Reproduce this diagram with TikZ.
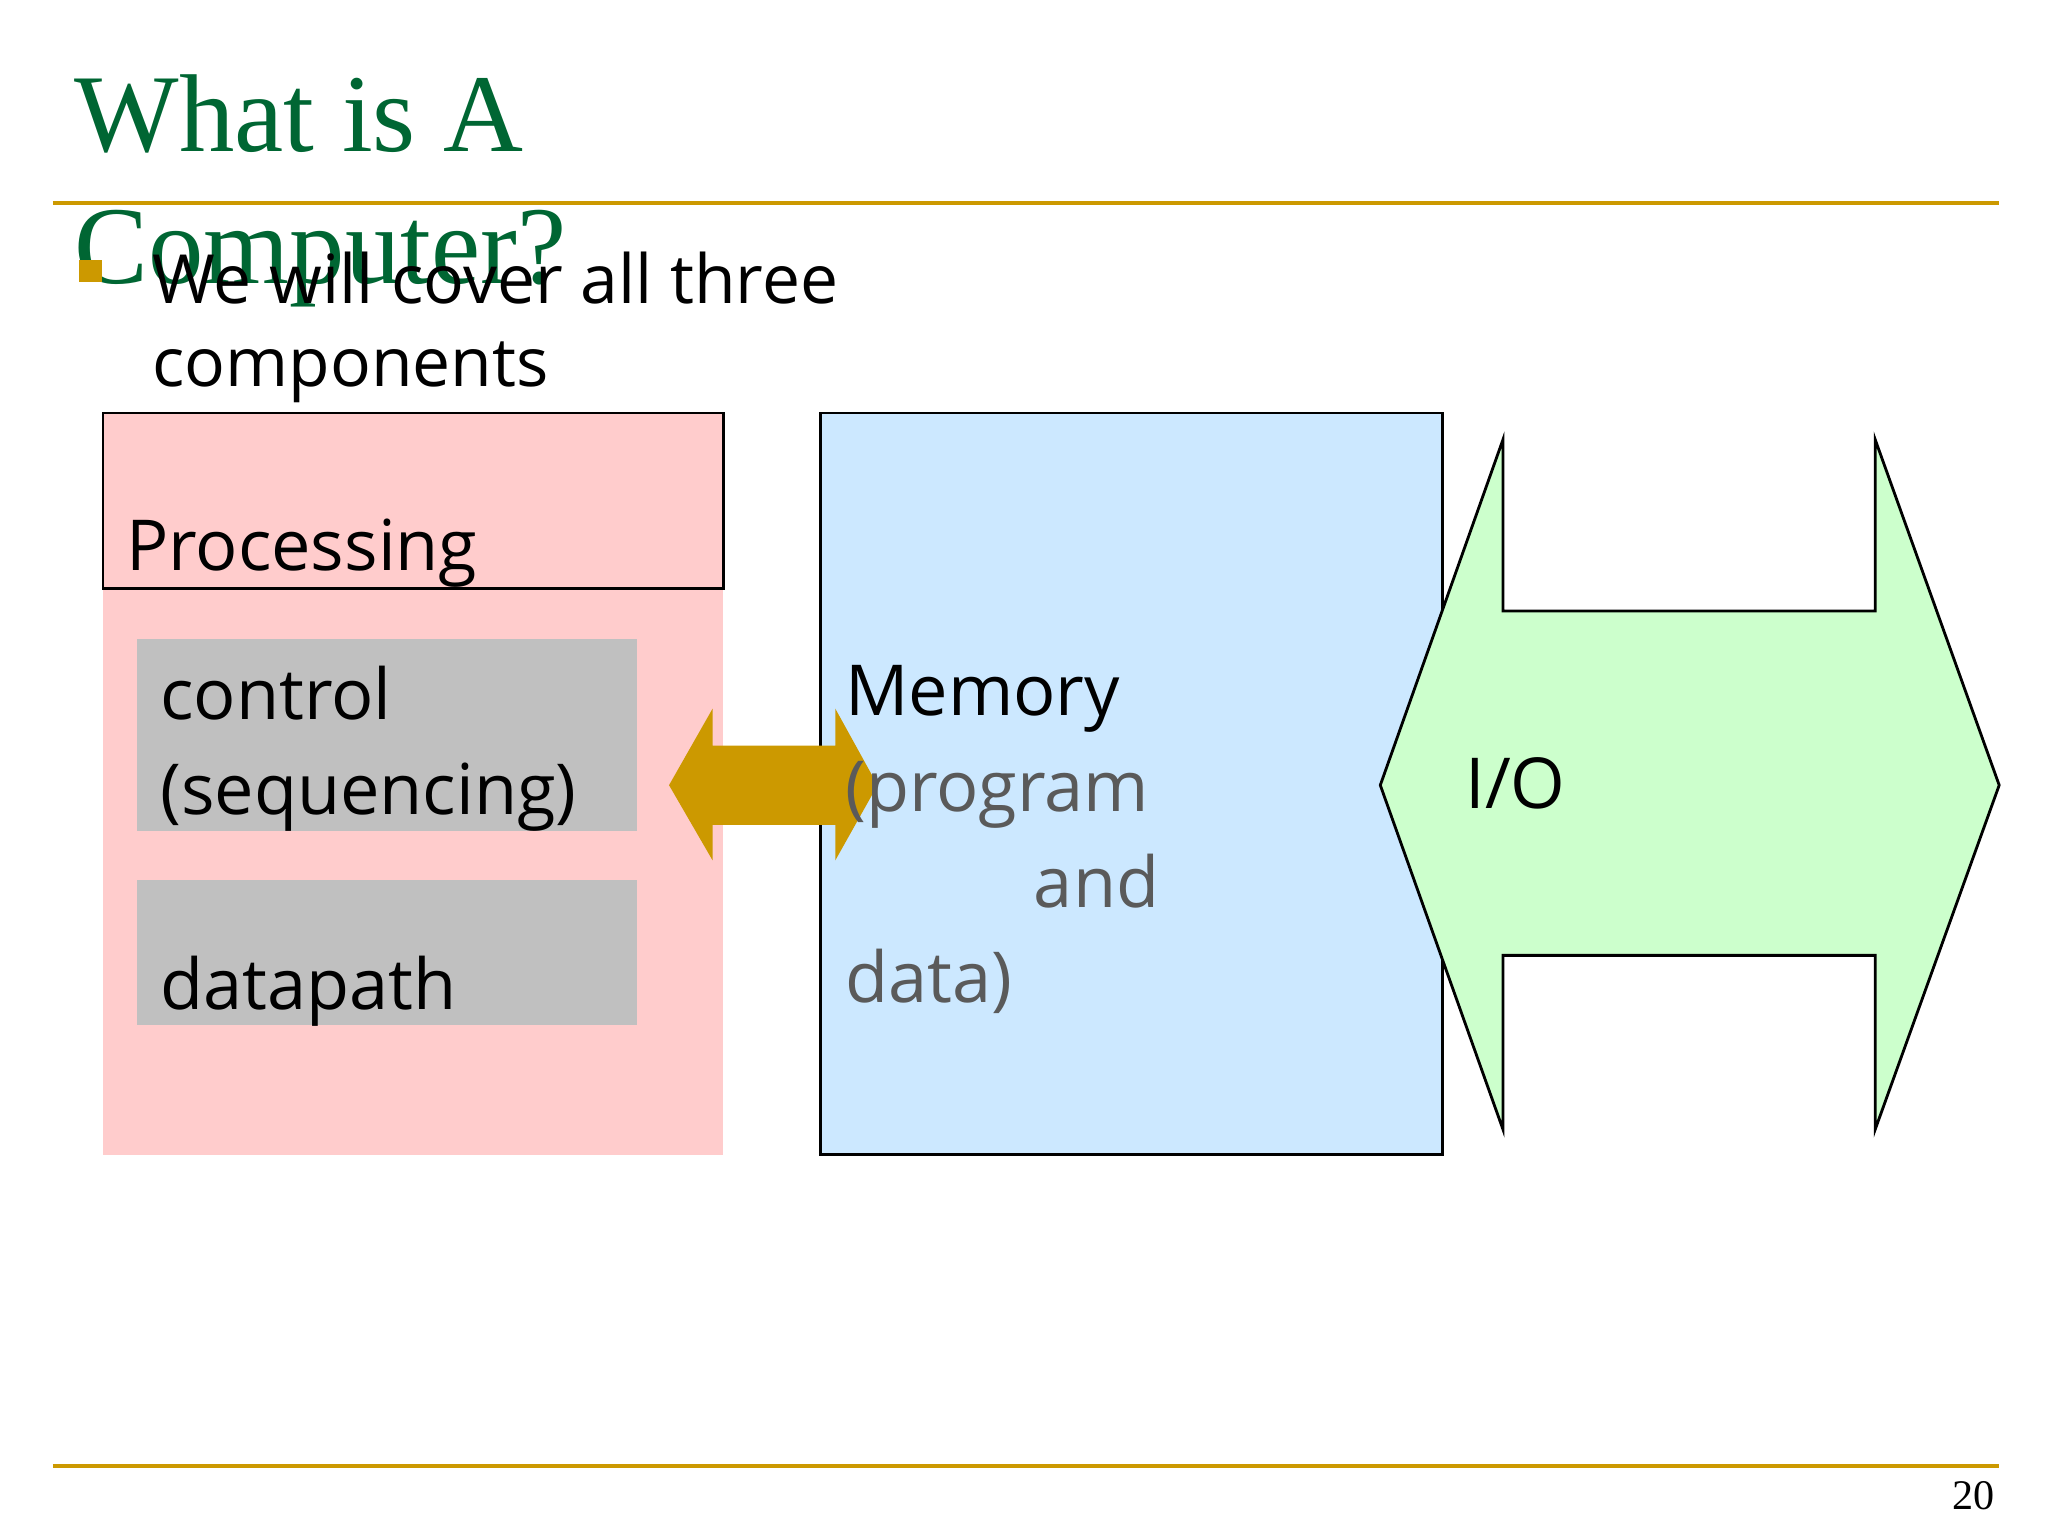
\documentclass[tikz,border=0pt]{standalone}
\usepackage{fontspec}
\setmainfont{Liberation Serif}
\newfontfamily\sans{Open Sans}
\definecolor{titlegreen}{RGB}{0,102,51}
\definecolor{gold}{RGB}{204,153,0}
\definecolor{procpink}{RGB}{255,204,204}
\definecolor{subgray}{RGB}{192,192,192}
\definecolor{memblue}{RGB}{204,232,255}
\definecolor{iogreen}{RGB}{204,255,204}
\definecolor{dimtext}{RGB}{90,90,90}
\begin{document}
\begin{tikzpicture}[x=0.0132cm,y=-0.0132cm,
  lbl/.style={anchor=base west,inner sep=0pt,font=\sans\fontsize{20}{24}\selectfont},
  rule/.style={gold,line width=1.1pt}]
\useasboundingbox (0,0) rectangle (1552,1164);
% title
\node[anchor=base west,inner sep=0pt,text=titlegreen,font=\fontsize{31.5}{36}\selectfont] (t1) at (56,115) {What is A};
\node[anchor=base west,inner sep=0pt,text=titlegreen,font=\fontsize{31.5}{36}\selectfont] (t2) at (56,215) {Computer?};
\draw[rule] (40,154) -- (1515,154);
\draw[rule] (40,1111) -- (1515,1111);
\node[anchor=base east,inner sep=0pt,font=\fontsize{12}{14}\selectfont] (pg) at (1512,1144) {20};
% bullet
\fill[gold] (60,197) rectangle (77,214);
\node[lbl,font=\sans\fontsize{19.3}{22}\selectfont] (b1) at (115,230) {We will cover all three};
\node[lbl,font=\sans\fontsize{19.3}{22}\selectfont] (b2) at (115,293) {components};
% processing
\fill[procpink] (78,313) rectangle (548,875);
\draw[line width=0.8pt] (78,313) rectangle (548,446);
\node[lbl] (proc) at (95,432) {Processing};
\fill[subgray] (104,484) rectangle (483,630);
\fill[subgray] (104,667) rectangle (483,777);
\node[lbl] (c1) at (121,545) {control};
\node[lbl] (c2) at (121,617) {(sequencing)};
\node[lbl] (dp) at (121,765) {datapath};
% memory
\draw[fill=memblue,line width=0.8pt] (622,313) rectangle (1093,875);
% gold double arrow
\fill[gold] (507,595) -- (540,537) -- (540,565) -- (633,565) -- (633,537) -- (665,595)
  -- (633,652) -- (633,625) -- (540,625) -- (540,652) -- cycle;
\node[lbl] (m1) at (640,542) {Memory};
\node[lbl,text=dimtext] (m2) at (640,615) {(program};
\node[lbl,text=dimtext] (m3) at (783,688) {and};
\node[lbl,text=dimtext] (m4) at (640,760) {data)};
% I/O arrow
\draw[fill=iogreen,line width=0.8pt] (1046,595) -- (1139,333) -- (1139,463) -- (1421,463)
  -- (1421,333) -- (1515,595) -- (1421,856) -- (1421,724) -- (1139,724) -- (1139,856) -- cycle;
\node[lbl] (io) at (1110,613) {I/O};
\end{tikzpicture}
\end{document}
